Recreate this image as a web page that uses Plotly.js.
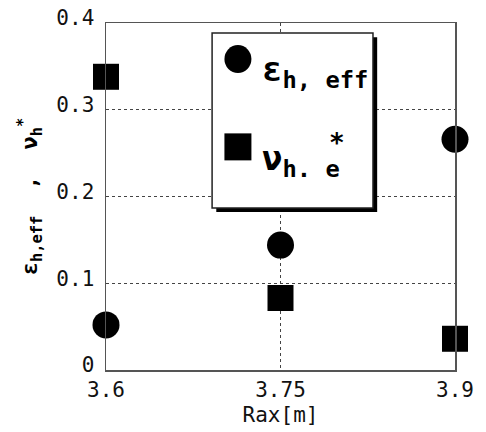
<!DOCTYPE html>
<html>
<head>
<meta charset="utf-8">
<script src="https://cdn.plot.ly/plotly-3.0.1.min.js"></script>
<style>html,body{margin:0;padding:0;background:#fff;}#chart{width:486px;height:432px;}</style>
</head>
<body>
<div id="chart"></div>
<script>
const raxValues = [3.6, 3.75, 3.9];
const epsHeff = [0.052, 0.144, 0.266];
const nuHe = [0.338, 0.083, 0.036];
const xTickVals = [3.6, 3.75, 3.9];
const xTickText = ['3.6', '3.75', '3.9'];
const yTickVals = [0, 0.1, 0.2, 0.3, 0.4];
const yTickText = ['0', '0.1', '0.2', '0.3', '0.4'];

const FONT = 'DejaVu Sans Mono, Liberation Mono, monospace';

const traces = [
  {x: raxValues, y: epsHeff, type: 'scatter', mode: 'markers', name: 'eps',
   marker: {symbol: 'circle', size: 27, color: '#000'}, cliponaxis: false},
  {x: raxValues, y: nuHe, type: 'scatter', mode: 'markers', name: 'nu',
   marker: {symbol: 'square', size: 26, color: '#000'}, cliponaxis: false}
];

// plot area: 349 x 347 px
const PW = 349, PH = 347;
const lx0 = 0.304, lx1 = 0.765, ly0 = 0.467, ly1 = 0.971;
const symCx = 0.378, symR = 13.5;
const circCy = 0.896, sqCy = 0.643;
const layout = {
  width: 486, height: 432,
  margin: {l: 106, r: 31, t: 23, b: 62},
  paper_bgcolor: '#fff', plot_bgcolor: '#fff',
  showlegend: false,
  font: {family: FONT, color: '#111', size: 21},
  xaxis: {
    range: [3.6, 3.9], tickvals: xTickVals, ticktext: xTickText,
    showline: true, mirror: true, linecolor: '#555', linewidth: 1.5,
    showgrid: true, gridcolor: '#444', griddash: 'dot', gridwidth: 1,
    zeroline: false, ticks: '', tickfont: {size: 21, family: FONT, color: '#111'},
    title: {text: 'Rax[m]', font: {size: 21, family: FONT, color: '#111'}, standoff: 6}
  },
  yaxis: {
    range: [0, 0.4], tickvals: yTickVals, ticktext: yTickText,
    showline: true, mirror: true, linecolor: '#555', linewidth: 1.5,
    showgrid: true, gridcolor: '#444', griddash: 'dot', gridwidth: 1,
    zeroline: false, ticks: '', ticklabelstandoff: 6, ticklabelshift: -5,
    tickfont: {size: 21, family: FONT, color: '#111'},
    title: {text: 'ε<sub>h,eff</sub>  ,  ν<sub>h</sub><sup>*</sup>', font: {size: 22, family: FONT, color: '#000', weight: 'bold'}, standoff: 12}
  },
  shapes: [
    {type: 'rect', xref: 'paper', yref: 'paper', x0: lx0 + 0.012, x1: lx1 + 0.012, y0: ly0 - 0.012, y1: ly1 - 0.012,
     fillcolor: '#000', line: {width: 0}, layer: 'above'},
    {type: 'rect', xref: 'paper', yref: 'paper', x0: lx0, x1: lx1, y0: ly0, y1: ly1,
     fillcolor: '#fff', line: {color: '#222', width: 1.5}, layer: 'above'},
    {type: 'circle', xref: 'paper', yref: 'paper',
     x0: symCx - symR / PW, x1: symCx + symR / PW, y0: circCy - 14 / PH, y1: circCy + 14 / PH,
     fillcolor: '#000', line: {width: 0}, layer: 'above'},
    {type: 'rect', xref: 'paper', yref: 'paper',
     x0: symCx - symR / PW, x1: symCx + symR / PW, y0: sqCy - symR / PH, y1: sqCy + symR / PH,
     fillcolor: '#000', line: {width: 0}, layer: 'above'}
  ],
  annotations: [
    {xref: 'paper', yref: 'paper', x: 0.44, y: 0.93, xanchor: 'left', yanchor: 'top', text: 'ε<sub>h, eff</sub>', showarrow: false,
     font: {size: 34, family: FONT, color: '#000', weight: 'bold'}},
    {xref: 'paper', yref: 'paper', x: 0.44, y: 0.675, xanchor: 'left', yanchor: 'top', text: 'ν<sub>h. e</sub>', showarrow: false,
     font: {size: 34, family: FONT, color: '#000', weight: 'bold'}},
    {xref: 'paper', yref: 'paper', x: 0.69, y: 0.655, text: '*', showarrow: false,
     font: {size: 26, family: FONT, color: '#000', weight: 'bold'}}
  ]
};

Plotly.newPlot('chart', traces, layout, {displayModeBar: false, staticPlot: true});
</script>
</body>
</html>
